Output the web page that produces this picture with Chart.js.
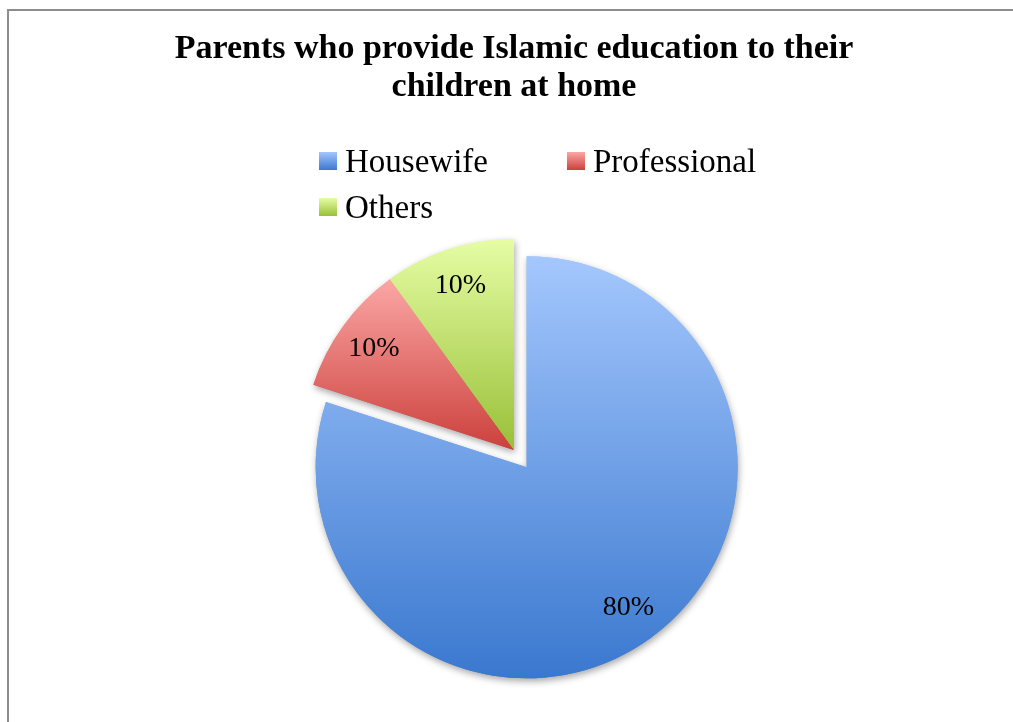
<!DOCTYPE html>
<html>
<head>
<meta charset="utf-8">
<title>Islamic education at home</title>
<script src="https://cdn.jsdelivr.net/npm/chart.js@4.4.1/dist/chart.umd.min.js"></script>
<style>
  html, body { margin: 0; padding: 0; background: #fff; overflow: hidden; }
  .stage { position: relative; width: 1013px; height: 722px; overflow: hidden; }
  /* marco gris del gráfico, se sale por la derecha y por abajo */
  .frame {
    position: absolute; left: 7px; top: 9px; width: 1030px; height: 740px;
    border: 2px solid #8d8d8d; box-sizing: border-box;
  }
  canvas { position: absolute; left: 0; top: 0; }
</style>
</head>
<body>
<div class="stage">
  <div class="frame"></div>
  <canvas id="pie" width="1013" height="722"></canvas>
</div>
<script>
// Datos
const titleLines = ['Parents who provide Islamic education to their', 'children at home'];
const categories = ['Housewife', 'Professional', 'Others'];
const shares = [80, 10, 10];

// Degradados de cada porción (arriba claro, abajo oscuro)
const sliceTop = ['#A4C7FD', '#FBA7A5', '#E6FDA4'];
const sliceBottom = ['#3A78CF', '#CC403C', '#98C038'];

const SERIF = '"Liberation Serif", "Times New Roman", serif';
const EXPLODE = 21.5;      // separación de la porción grande
const LABEL_RADIUS = 0.82; // posición de los % sobre el radio

function arcBounds(arc) {
    let top = arc.y, bottom = arc.y;
    for (let k = 0; k <= 60; k++) {
        const a = arc.startAngle + (arc.endAngle - arc.startAngle) * k / 60;
        const py = arc.y + Math.sin(a) * arc.outerRadius;
        top = Math.min(top, py);
        bottom = Math.max(bottom, py);
    }
    return { top, bottom };
}

function vGradient(ctx, top, bottom, i) {
    const g = ctx.createLinearGradient(0, top, 0, bottom);
    g.addColorStop(0, sliceTop[i]);
    g.addColorStop(1, sliceBottom[i]);
    return g;
}

const pieFx = {
    id: 'pieFx',
    afterDatasetUpdate(chart, args) {
        const arcs = args.meta.data;
        // la porción de Housewife se separa del resto
        const hw = arcs[0];
        const mid = (hw.startAngle + hw.endAngle) / 2;
        hw.x += Math.cos(mid) * EXPLODE;
        hw.y += Math.sin(mid) * EXPLODE;

        arcs.forEach((arc, i) => {
            const { top, bottom } = arcBounds(arc);
            arc.options = Object.assign({}, arc.options, {
                backgroundColor: vGradient(chart.ctx, top, bottom, i)
            });
        });
    },
    beforeDatasetsDraw(chart) {
        // pasada de sombra, luego Chart.js pinta encima
        const ctx = chart.ctx;
        ctx.save();
        ctx.shadowColor = 'rgba(0, 0, 0, 0.35)';
        ctx.shadowBlur = 7;
        ctx.shadowOffsetX = 1;
        ctx.shadowOffsetY = 3;
        chart.getDatasetMeta(0).data.forEach(arc => arc.draw(ctx));
        ctx.restore();
    },
    afterDatasetsDraw(chart) {
        const ctx = chart.ctx;
        ctx.save();
        ctx.font = `28px ${SERIF}`;
        ctx.fillStyle = '#000';
        ctx.textAlign = 'center';
        ctx.textBaseline = 'middle';
        chart.getDatasetMeta(0).data.forEach((arc, i) => {
            const mid = (arc.startAngle + arc.endAngle) / 2;
            const r = arc.outerRadius * LABEL_RADIUS;
            ctx.fillText(`${shares[i]}%`, arc.x + Math.cos(mid) * r, arc.y + Math.sin(mid) * r);
        });
        ctx.restore();
    },
    afterDraw(chart) {
        // leyenda en rejilla de dos columnas
        const ctx = chart.ctx;
        const left = 319, colW = 248, top = 152, rowH = 46, box = 18;
        ctx.save();
        ctx.font = `33px ${SERIF}`;
        ctx.fillStyle = '#000';
        ctx.textBaseline = 'alphabetic';
        categories.forEach((name, i) => {
            const x = left + (i % 2) * colW;
            const y = top + Math.floor(i / 2) * rowH;
            ctx.fillStyle = vGradient(ctx, y, y + box, i);
            ctx.fillRect(x, y, box, box);
            ctx.fillStyle = '#000';
            ctx.fillText(name, x + box + 8, y + 20);
        });
        ctx.restore();
    }
};

Chart.defaults.color = '#000';

new Chart(document.getElementById('pie'), {
    type: 'pie',
    data: {
        labels: categories,
        datasets: [{
            data: shares,
            backgroundColor: sliceTop,
            borderWidth: 0,
            hoverOffset: 0
        }]
    },
    options: {
        responsive: false,
        animation: false,
        radius: 211,
        layout: { padding: { left: 15, right: 0, top: 10, bottom: 0 } },
        plugins: {
            legend: { display: false },
            tooltip: { enabled: false },
            title: {
                display: true,
                text: titleLines,
                color: '#000',
                font: { family: SERIF, size: 34, weight: 'bold', lineHeight: 1.1 },
                padding: { top: 21, bottom: 72 }
            }
        }
    },
    plugins: [pieFx]
});
</script>
</body>
</html>
